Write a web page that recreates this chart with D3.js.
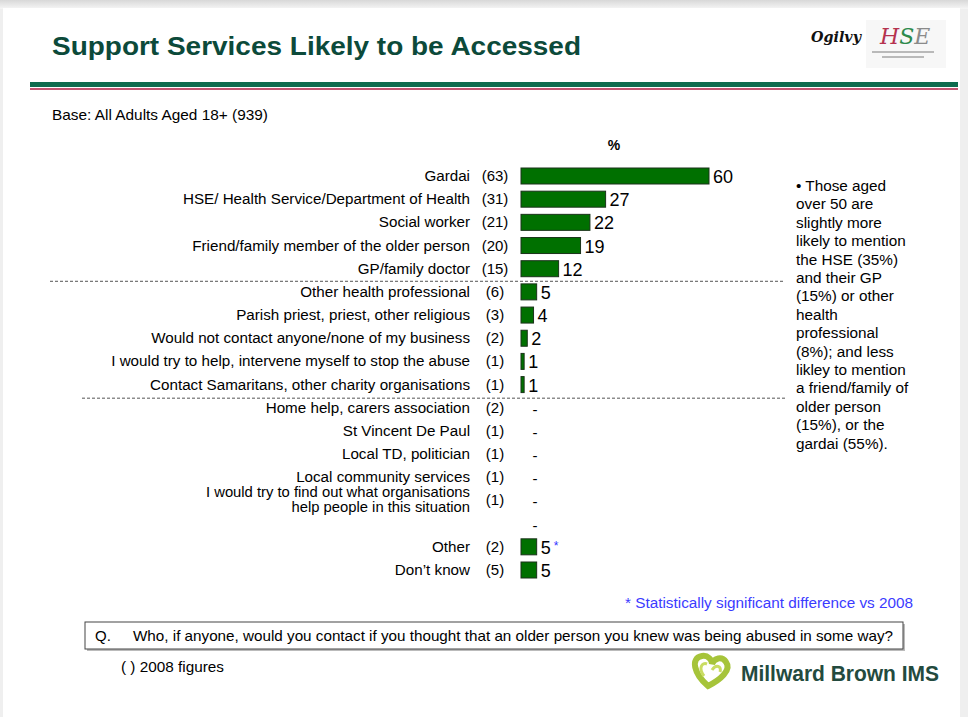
<!DOCTYPE html>
<html>
<head>
<meta charset="utf-8">
<script src="https://cdn.jsdelivr.net/npm/d3@7"></script>
<style>
  body { margin: 0; background: #ffffff; }
  svg { display: block; font-family: "Liberation Sans", Arial, sans-serif; }
</style>
</head>
<body>
<svg id="vis" width="968" height="717"></svg>
<script>
// chart data
var categories = [
  "Gardai",
  "HSE/ Health Service/Department of Health",
  "Social worker",
  "Friend/family member of the older person",
  "GP/family doctor",
  "Other health professional",
  "Parish priest, priest, other religious",
  "Would not contact anyone/none of my business",
  "I would try to help, intervene myself to stop the abuse",
  "Contact Samaritans, other charity organisations",
  "Home help, carers association",
  "St Vincent De Paul",
  "Local TD, politician",
  "Local community services",
  "I would try to find out what organisations|help people in this situation",
  "",
  "Other",
  "Don\u2019t know"
];
var values2009 = [60, 27, 22, 19, 12, 5, 4, 2, 1, 1, null, null, null, null, null, null, 5, 5];
var figures2008 = ["(63)", "(31)", "(21)", "(20)", "(15)", "(6)", "(3)", "(2)", "(1)", "(1)", "(2)", "(1)", "(1)", "(1)", "(1)", "", "(2)", "(5)"];
var significant = ["Other"];
var dividerAfter = [4, 9];

var noteLines = [
  "\u2022 Those aged",
  "over 50 are",
  "slightly more",
  "likely to mention",
  "the HSE (35%)",
  "and their GP",
  "(15%) or other",
  "health",
  "professional",
  "(8%); and less",
  "likley to mention",
  "a friend/family of",
  "older person",
  "(15%), or the",
  "gardai (55%)."
];

var svg = d3.select("#vis");

// slide frame
var defs = svg.append("defs");
var grad = defs.append("linearGradient").attr("id", "topShade").attr("x1", 0).attr("y1", 0).attr("x2", 0).attr("y2", 1);
grad.append("stop").attr("offset", "0%").attr("stop-color", "#d8d8d8");
grad.append("stop").attr("offset", "100%").attr("stop-color", "#f6f6f6");
svg.append("rect").attr("x", 0).attr("y", 0).attr("width", 968).attr("height", 717).attr("fill", "#efefef");
svg.append("rect").attr("x", 0).attr("y", 0).attr("width", 968).attr("height", 9).attr("fill", "url(#topShade)");
svg.append("rect").attr("x", 3).attr("y", 8).attr("width", 957).attr("height", 709).attr("fill", "#ffffff");

// title
svg.append("text")
  .attr("x", 52).attr("y", 55)
  .attr("fill", "#0c4a3a")
  .style("font-size", "25px").style("font-weight", "bold")
  .attr("textLength", 529).attr("lengthAdjust", "spacingAndGlyphs")
  .text("Support Services Likely to be Accessed");

// logos top right
svg.append("text").attr("x", 811).attr("y", 42)
  .style("font-family", "'DejaVu Serif', serif").style("font-size", "15px").style("font-style", "italic").style("font-weight", "bold")
  .attr("textLength", 50).attr("lengthAdjust", "spacingAndGlyphs")
  .attr("fill", "#111").text("Ogilvy");
svg.append("rect").attr("x", 866).attr("y", 20).attr("width", 80).attr("height", 48).attr("fill", "#f7f7f7");
var hse = svg.append("text").attr("x", 880).attr("y", 44)
  .style("font-family", "'DejaVu Serif', serif").style("font-size", "22px").style("font-style", "italic");
hse.append("tspan").attr("fill", "#b5324f").text("H");
hse.append("tspan").attr("fill", "#2c8a4c").text("S");
hse.append("tspan").attr("fill", "#8a8a8a").text("E");
svg.append("rect").attr("x", 872).attr("y", 51).attr("width", 62).attr("height", 2).attr("fill", "#b9b9b9");
svg.append("rect").attr("x", 882).attr("y", 56).attr("width", 42).attr("height", 2).attr("fill", "#b9b9b9");

// header rules
svg.append("rect").attr("x", 30).attr("y", 82).attr("width", 928).attr("height", 5).attr("fill", "#0e6b4e");
svg.append("rect").attr("x", 30).attr("y", 88).attr("width", 928).attr("height", 2).attr("fill", "#c25470");

svg.append("text").attr("x", 52).attr("y", 120)
  .style("font-size", "15px").attr("fill", "#000")
  .attr("textLength", 216).attr("lengthAdjust", "spacingAndGlyphs")
  .text("Base: All Adults Aged 18+ (939)");

// scales
var x = d3.scaleLinear().domain([0, 60]).range([521, 709]);
var y = d3.scalePoint().domain(d3.range(categories.length)).range([176, 570]);
var barH = 16;

svg.append("text").attr("x", 614).attr("y", 150)
  .attr("text-anchor", "middle").style("font-size", "14px").style("font-weight", "bold")
  .text("%");

// dashed dividers
var divX = [50, 82];
dividerAfter.forEach(function(d, i) {
  var yy = (y(d) + y(d + 1)) / 2 + (i === 0 ? 1 : 2);
  svg.append("line")
    .attr("x1", divX[i]).attr("x2", 785)
    .attr("y1", yy).attr("y2", yy)
    .attr("stroke", "#555").attr("stroke-width", 1)
    .attr("stroke-dasharray", "3,2");
});

var rows = svg.append("g").selectAll("g")
  .data(categories.map(function(c, i) { return {cat: c, val: values2009[i], prev: figures2008[i], i: i}; }))
  .enter().append("g");

// category labels
rows.each(function(d) {
  var g = d3.select(this);
  var parts = d.cat.split("|");
  var t = g.append("text")
    .attr("x", 470).attr("text-anchor", "end")
    .style("font-size", "15.2px").attr("fill", "#000");
  if (parts.length === 1) {
    t.attr("y", y(d.i) + 5).text(parts[0]);
  } else {
    t.style("font-size", "14.8px");
    parts.forEach(function(p, k) {
      t.append("tspan").attr("x", 470).attr("y", y(d.i) - 3 + k * 15).text(p);
    });
  }
  g.append("text")
    .attr("x", 495).attr("y", y(d.i) + 5)
    .attr("text-anchor", "middle")
    .style("font-size", "15px")
    .text(d.prev);
});

// bars
rows.filter(function(d) { return d.val !== null; })
  .append("rect")
  .attr("x", x(0))
  .attr("y", function(d) { return y(d.i) - barH / 2; })
  .attr("width", function(d) { return Math.max(x(d.val) - x(0), 3); })
  .attr("height", barH)
  .attr("fill", "#007000")
  .attr("stroke", "#1a331a").attr("stroke-width", 1);

// value labels
rows.filter(function(d) { return d.val !== null; })
  .append("text")
  .attr("x", function(d) { return x(0) + Math.max(x(d.val) - x(0), 3) + 4; })
  .attr("y", function(d) { return y(d.i) + 7; })
  .style("font-size", "18px")
  .text(function(d) { return d.val; });

// dashes for no-answer rows
rows.filter(function(d) { return d.val === null; })
  .append("text")
  .attr("x", 535).attr("y", function(d) { return y(d.i) + 7; })
  .attr("text-anchor", "middle")
  .attr("fill", "#000")
  .style("font-size", "15px")
  .text("-");

// significance marker
rows.filter(function(d) { return significant.indexOf(d.cat) >= 0; })
  .append("text")
  .attr("x", function(d) { return x(0) + (x(d.val) - x(0)) + 17; })
  .attr("y", function(d) { return y(d.i) + 3; })
  .attr("fill", "#3333ff")
  .style("font-size", "12px")
  .text("*");

// side note
svg.append("text")
  .attr("x", 796).attr("y", 191)
  .style("font-size", "15.3px")
  .selectAll("tspan")
  .data(noteLines)
  .enter().append("tspan")
  .attr("x", 796)
  .attr("dy", function(d, i) { return i === 0 ? 0 : 18.4; })
  .text(function(d) { return d; });

// footnote
svg.append("text")
  .attr("x", 913).attr("y", 608)
  .attr("text-anchor", "end")
  .attr("fill", "#3b3bff")
  .style("font-size", "15.3px")
  .text("* Statistically significant difference vs 2008");

// question box
svg.append("rect").attr("x", 87).attr("y", 624).attr("width", 818).attr("height", 27).attr("fill", "#bbb");
svg.append("rect").attr("x", 85).attr("y", 622).attr("width", 818).attr("height", 27)
  .attr("fill", "#fff").attr("stroke", "#444").attr("stroke-width", 1);
svg.append("text").attr("x", 95).attr("y", 641).style("font-size", "15px").text("Q.");
svg.append("text").attr("x", 133).attr("y", 641).style("font-size", "15px")
  .attr("textLength", 760).attr("lengthAdjust", "spacingAndGlyphs")
  .text("Who, if anyone, would you contact if you thought that an older person you knew was being abused in some way?");

svg.append("text").attr("x", 121).attr("y", 672).style("font-size", "15px")
  .attr("textLength", 103).attr("lengthAdjust", "spacingAndGlyphs")
  .text("( ) 2008 figures");

// Millward Brown logo
var logo = svg.append("g").attr("transform", "translate(708,672)");
logo.append("path")
  .attr("d", "M0,14 C-14,2 -18,-14 -6,-16 C0,-17 4,-12 4,-8 C6,-14 14,-16 18,-10 C24,-2 12,8 0,14 Z")
  .attr("fill", "none").attr("stroke", "#a6c43a").attr("stroke-width", 6);
logo.append("path")
  .attr("d", "M-4,4 C-10,-4 -6,-10 -1,-8 M4,-2 C8,-8 14,-6 12,0")
  .attr("fill", "none").attr("stroke", "#c9dc62").attr("stroke-width", 3);
svg.append("text").attr("x", 741).attr("y", 681)
  .attr("fill", "#234a3e")
  .style("font-size", "22px").style("font-weight", "bold")
  .attr("textLength", 198).attr("lengthAdjust", "spacingAndGlyphs")
  .text("Millward Brown IMS");
</script>
</body>
</html>
